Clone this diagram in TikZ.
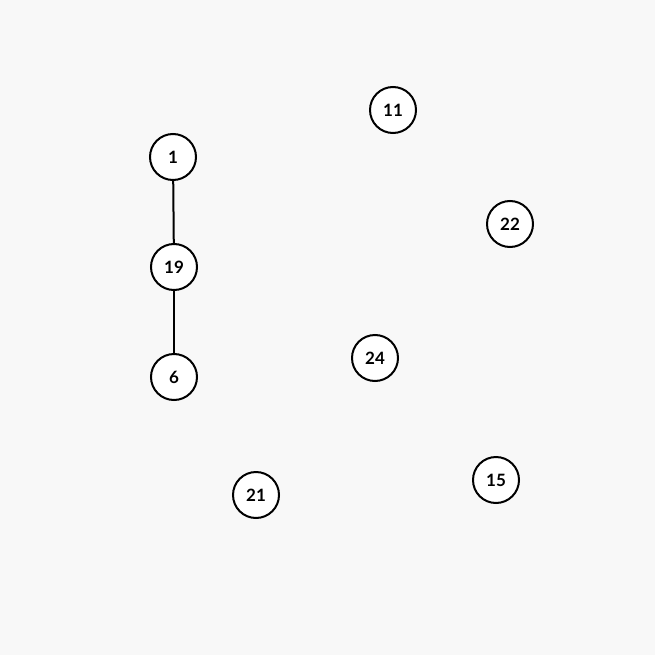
\documentclass[tikz,border=0pt]{standalone}
\usepackage{fontspec}
\setsansfont{Lato}
\usepackage{tikz}

\definecolor{bgcol}{HTML}{F8F8F8}

\begin{document}
\begin{tikzpicture}[
    x=1pt, y=-1pt,
    vertex/.style={
        circle,
        draw=black,
        fill=white,
        line width=2pt,
        minimum size=46pt,
        inner sep=0pt,
        font=\sffamily\bfseries\fontsize{17}{19}\selectfont
    },
    edge/.style={draw, line width=2pt}
]

\fill[bgcol] (0,0) rectangle (655,655);
\useasboundingbox (0,0) rectangle (655,655);

\node (v1) [vertex] at (173,157) {1};
\node (v19) [vertex] at (174,267) {19};
\node (v6) [vertex] at (174,377) {6};
\node (v11) [vertex] at (393,110) {11};
\node (v22) [vertex] at (510,224) {22};
\node (v24) [vertex] at (375,358) {24};
\node (v21) [vertex] at (256,495) {21};
\node (v15) [vertex] at (496,480) {15};

\path [edge] (v1) -- (v19);
\path [edge] (v19) -- (v6);

\end{tikzpicture}
\end{document}
